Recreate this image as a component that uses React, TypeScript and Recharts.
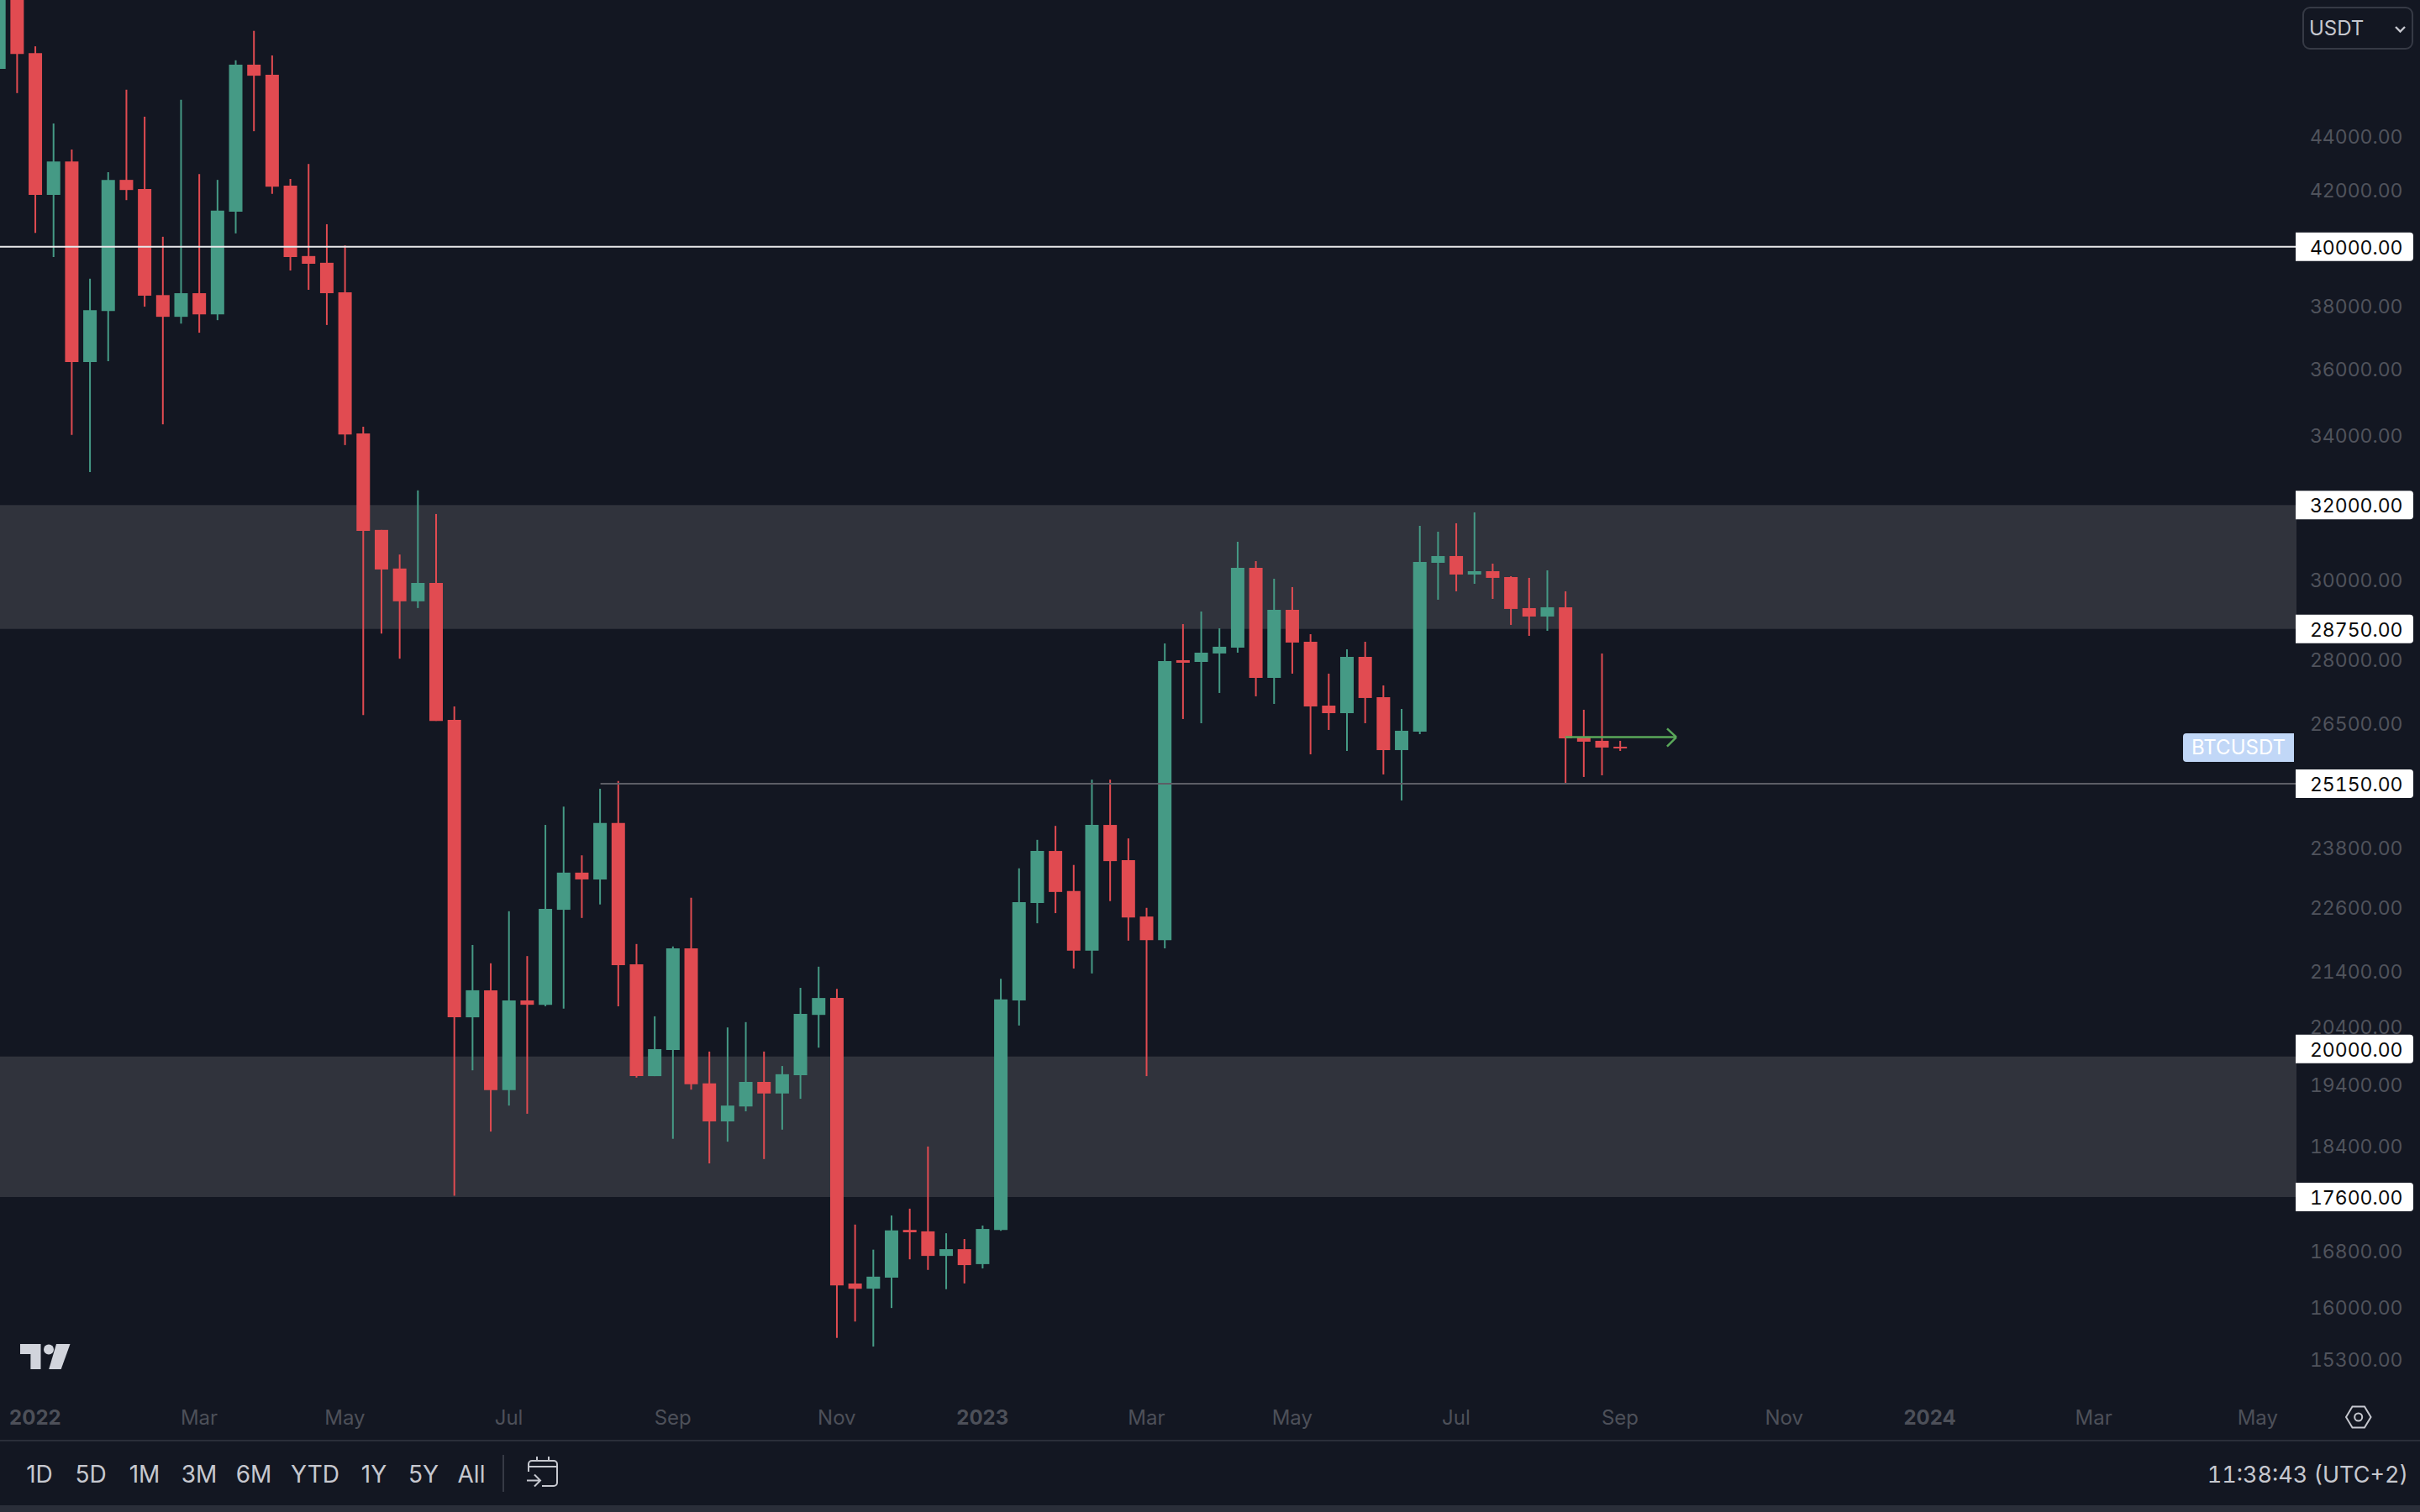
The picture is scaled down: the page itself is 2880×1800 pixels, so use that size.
import { Bar, Cell, ComposedChart, ReferenceArea, ReferenceLine, XAxis, YAxis } from 'recharts';

const opens = [46638, 50775, 47284, 41833, 43054, 36203, 37838, 42377, 42043, 38362, 37649, 38425, 37728, 41228, 46812, 46407, 42166, 39678, 39448, 38457, 34039, 31318, 30291, 29445, 29915, 26577, 20555, 21041, 19302, 20857, 20779, 22556, 23292, 23156, 24313, 21519, 19537, 19981, 21817, 19415, 18787, 19031, 19439, 19246, 19553, 20598, 20901, 16333, 16259, 16416, 17106, 17085, 16726, 16824, 16608, 17106, 20857, 22688, 23732, 22926, 21772, 24272, 23545, 22425, 21972, 27984, 27943, 28147, 28290, 30309, 27561, 29229, 28434, 26908, 26733, 28065, 27105, 25893, 26309, 30441, 30619, 30134, 30221, 30068, 29272, 29060, 29293, 26183, 26101, 25969];
const highs = [51900, 52088, 47560, 44494, 43504, 38909, 42660, 45811, 44755, 40345, 45411, 42590, 42377, 46989, 48200, 47186, 42413, 42964, 40784, 40043, 34238, 31318, 30659, 32406, 31751, 26889, 21881, 21537, 22528, 21672, 24272, 24659, 23643, 25042, 25210, 21899, 20573, 21853, 22792, 19956, 20376, 20470, 19956, 19708, 21085, 21474, 21067, 17185, 16817, 17321, 17423, 18384, 17057, 16972, 17171, 21252, 23379, 23961, 24252, 23447, 25241, 25241, 23991, 22594, 28393, 28871, 29187, 28766, 30999, 30485, 30025, 29808, 28620, 27661, 28249, 28434, 27381, 26830, 31429, 31270, 31498, 31796, 30419, 30090, 30047, 30243, 29700, 26811, 28147, 26101];
const lows = [45500, 45677, 40479, 39645, 33996, 32923, 36233, 41643, 37980, 34309, 37430, 37135, 37540, 40463, 44198, 41869, 39185, 38538, 37384, 33700, 26688, 28635, 28021, 29274, 26555, 17620, 19635, 18623, 19046, 18912, 20753, 20710, 22397, 22660, 20753, 19512, 19537, 18507, 19310, 18118, 18461, 18952, 18186, 18654, 19158, 20023, 15582, 15804, 15466, 15990, 16677, 16525, 16252, 16333, 16546, 17092, 20410, 22295, 22491, 21439, 21349, 22726, 21963, 19537, 21817, 26598, 26501, 27203, 28167, 27124, 26947, 27661, 25799, 26348, 25874, 26501, 25354, 24791, 26252, 29485, 29700, 29894, 29506, 28850, 28579, 28704, 25158, 25299, 25335, 25874];
const closes = [50775, 47244, 41833, 43054, 36203, 37869, 42377, 42008, 38346, 37649, 38425, 37728, 41263, 46812, 46368, 42132, 39645, 39414, 38425, 34010, 31292, 30266, 29445, 29915, 26555, 20555, 21041, 19302, 20857, 20779, 22575, 23292, 23156, 24313, 21501, 19537, 19998, 21817, 19399, 18787, 19046, 19439, 19246, 19569, 20615, 20901, 16306, 16259, 16429, 17099, 17071, 16726, 16824, 16594, 17120, 20875, 22707, 23732, 22906, 21772, 24272, 23525, 22406, 21972, 27963, 27923, 28167, 28311, 30309, 27561, 29229, 28414, 26889, 26733, 28065, 27085, 25893, 26329, 30463, 30619, 30134, 30221, 30047, 29251, 29060, 29293, 26158, 26082, 25950, 25931];

const timeTicks = [2, 11, 19, 28, 37, 46, 54, 63, 71, 80, 89, 98, 106, 115, 124];
const timeLabels = ['2022', 'Mar', 'May', 'Jul', 'Sep', 'Nov', '2023', 'Mar', 'May', 'Jul', 'Sep', 'Nov', '2024', 'Mar', 'May'];
const priceTicks = [44000, 42000, 38000, 36000, 34000, 30000, 28000, 26500, 25000, 23800, 22600, 21400, 20400, 19400, 18400, 16800, 16000, 15300];
const levelTicks = [40000, 32000, 28750, 25150, 20000, 17600];
const zones = [[28750, 32000], [17600, 19870]];
const ranges = ['1D', '5D', '1M', '3M', '6M', 'YTD', '1Y', '5Y', 'All'];
const rangeCenters = [47, 108, 172, 237, 302, 375, 445, 504, 561];

// arrow drawing: [week, price]
const arrowShaft = [[86, 26183], [92.09, 26183]];
const arrowTop = [[91.58, 26380], [92.09, 26183]];
const arrowBottom = [[91.58, 25975], [92.09, 26183]];

const candles = opens.map((open, i) => ({
  week: i,
  wick: [lows[i], highs[i]],
  body: [Math.min(open, closes[i]), Math.max(open, closes[i])],
  up: closes[i] >= open,
}));

const UP = '#459a85';
const DOWN = '#e14b51';
const BG = '#131722';
const FONT = 'Inter, sans-serif';
const weekDomain = [0.068, 126.13];

function PriceTick({ x, y, payload }: any) {
  const level = levelTicks.includes(payload.value);
  return (
    <g>
      {level && (
        <path
          d={`M${x - 1} ${y - 17} H${x + 135} a4 4 0 0 1 4 4 V${y + 13} a4 4 0 0 1 -4 4 H${x - 1} Z`}
          fill="#ffffff"
        />
      )}
      <text
        x={x + 126.5}
        y={y + 1}
        textAnchor="end"
        dominantBaseline="central"
        fontFamily={FONT}
        fontSize={23}
        style={{ fontVariantNumeric: 'tabular-nums' }}
        fill={level ? '#0b0b0b' : '#50535c'}
      >
        {payload.value.toFixed(2)}
      </text>
    </g>
  );
}

function TimeTick({ x, y, index }: any) {
  const label = timeLabels[index];
  const year = label.length === 4;
  return (
    <text
      x={x}
      y={y + 19}
      textAnchor="middle"
      dominantBaseline="central"
      fontFamily={FONT}
      fontSize={24}
      fontWeight={year ? 700 : 400}
      fill="#4d5059"
    >
      {label}
    </text>
  );
}

function segment(points: number[][]) {
  return points.map(([x, y]) => ({ x, y }));
}

function Overlay() {
  const text = { position: 'absolute', fontFamily: FONT, color: '#c6c8cf', whiteSpace: 'nowrap', lineHeight: 1 } as const;
  return (
    <>
      <div style={{ position: 'absolute', left: 2740, top: 8, width: 128, height: 47, border: '2px solid #363a45', borderRadius: 9 }} />
      <span style={{ ...text, left: 2748, top: 22, fontSize: 24 }}>USDT</span>
      <div style={{ position: 'absolute', left: 2598, top: 873, width: 132, height: 34, background: '#c1d7f7', borderRadius: '4px 0 0 4px' }} />
      <span style={{ ...text, left: 2598, width: 132, textAlign: 'center', top: 878, fontSize: 24, color: '#ffffff' }}>BTCUSDT</span>
      {ranges.map((r, i) => (
        <span key={r} style={{ ...text, left: rangeCenters[i] - 50, width: 100, textAlign: 'center', top: 1741, fontSize: 28 }}>{r}</span>
      ))}
      <span style={{ ...text, right: 14, top: 1742, fontSize: 27, fontVariantNumeric: 'tabular-nums' }}>11:38:43 (UTC+2)</span>
      <div style={{ position: 'absolute', left: 0, top: 1714, width: 2880, height: 2, background: '#2a2e39' }} />
      <div style={{ position: 'absolute', left: 0, top: 1792, width: 2880, height: 8, background: '#2a2e39' }} />
      <div style={{ position: 'absolute', left: 598, top: 1732, width: 2, height: 44, background: '#363a45' }} />
      <svg style={{ position: 'absolute', left: 0, top: 0 }} width={2880} height={1800} fill="none">
        <path d="M24 1600 H48.5 V1630 H36.4 V1612 H24 Z" fill="#d1d4dc" />
        <circle cx={58} cy={1606.5} r={6} fill="#d1d4dc" />
        <path d="M67 1600 H83.5 L72.7 1630 H58.2 Z" fill="#d1d4dc" />
        <path d="M2851 32 L2856.5 37.5 L2862 32" stroke="#c6c8cf" strokeWidth={2.4} />
        <path d="M2792 1687 L2799.5 1674.5 H2814 L2821.5 1687 L2814 1699.5 H2799.5 Z" stroke="#c6c8cf" strokeWidth={2} />
        <circle cx={2806.7} cy={1687} r={4.5} stroke="#c6c8cf" strokeWidth={2} />
        <g stroke="#c6c8cf" strokeWidth={2}>
          <path d="M629 1752 V1743 a4 4 0 0 1 4 -4 H659 a4 4 0 0 1 4 4 V1765 a4 4 0 0 1 -4 4 H645" />
          <path d="M629 1746 H663 M639 1734 V1739 M653 1734 V1739" />
          <path d="M627 1762.5 H642 M636 1755.5 L643 1762.5 L636 1769.5" />
        </g>
      </svg>
    </>
  );
}

export default function App() {
  return (
    <div style={{ position: 'fixed', left: 0, top: 0, width: 2880, height: 1800, background: BG, overflow: 'hidden' }}>
      <ComposedChart width={2880} height={1714} data={candles} margin={{ top: 0, right: 0, bottom: 0, left: 0 }}>
        <XAxis
          xAxisId="body"
          type="number"
          dataKey="week"
          domain={weekDomain}
          allowDataOverflow
          ticks={timeTicks}
          interval={0}
          height={54}
          axisLine={false}
          tickLine={false}
          tick={<TimeTick />}
        />
        <XAxis xAxisId="wick" type="number" dataKey="week" domain={weekDomain} allowDataOverflow hide />
        <YAxis
          orientation="right"
          scale="log"
          type="number"
          domain={[14840, 49502]}
          allowDataOverflow
          ticks={[...priceTicks, ...levelTicks]}
          interval={0}
          width={147}
          axisLine={false}
          tickLine={false}
          tickSize={0}
          tickMargin={0}
          tick={<PriceTick />}
        />
        {zones.map(([y1, y2]) => (
          <ReferenceArea key={y1} xAxisId="body" y1={y1} y2={y2} fill="#30333c" fillOpacity={1} stroke="none" />
        ))}
        <ReferenceLine xAxisId="body" y={40000} stroke="#e8e8ea" strokeWidth={2} />
        <ReferenceLine
          xAxisId="body"
          segment={segment([[33.03, 25150], [weekDomain[1], 25150]])}
          stroke="#5c5e66"
          strokeWidth={2}
        />
        <ReferenceLine xAxisId="body" segment={segment(arrowShaft)} stroke="#5aa85a" strokeWidth={2.5} />
        <ReferenceLine xAxisId="body" segment={segment(arrowTop)} stroke="#5aa85a" strokeWidth={2.5} />
        <ReferenceLine xAxisId="body" segment={segment(arrowBottom)} stroke="#5aa85a" strokeWidth={2.5} />
        <Bar xAxisId="wick" dataKey="wick" barSize={2} isAnimationActive={false}>
          {candles.map((c) => (
            <Cell key={c.week} fill={c.up ? UP : DOWN} />
          ))}
        </Bar>
        <Bar xAxisId="body" dataKey="body" barSize={16} isAnimationActive={false}>
          {candles.map((c) => (
            <Cell key={c.week} fill={c.up ? UP : DOWN} />
          ))}
        </Bar>
      </ComposedChart>
      <Overlay />
    </div>
  );
}
